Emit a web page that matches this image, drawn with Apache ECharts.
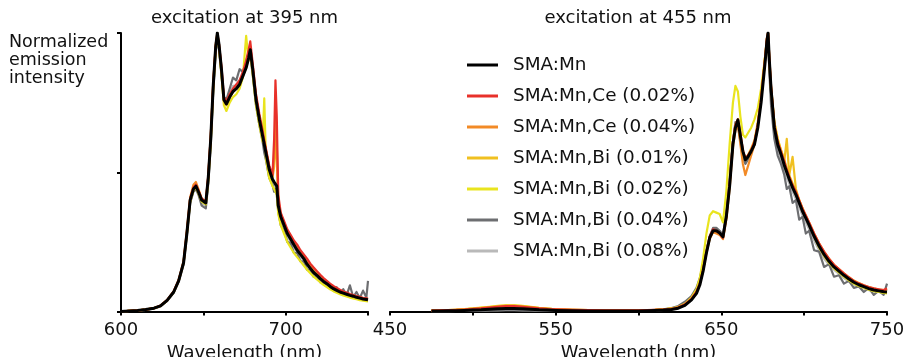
<!DOCTYPE html>
<html>
<head>
<meta charset="utf-8">
<script src="https://cdn.jsdelivr.net/npm/echarts@6/dist/echarts.min.js"></script>
<style>html,body{margin:0;padding:0;background:#fff}#c{width:908px;height:357px}</style>
</head>
<body>
<div id="c"></div>
<script>
// ---------- categories / labels ----------
const seriesNames = ['SMA:Mn','SMA:Mn,Ce (0.02%)','SMA:Mn,Ce (0.04%)','SMA:Mn,Bi (0.01%)','SMA:Mn,Bi (0.02%)','SMA:Mn,Bi (0.04%)','SMA:Mn,Bi (0.08%)'];
const seriesColors = ['#000000','#e8312a','#f28a26','#f0c020','#e9e41e','#6d6e71','#b9b9b9'];
const leftTickLabels = [600, 700];
const rightTickLabels = [450, 550, 650, 750];
const leftTitle = 'excitation at 395 nm';
const rightTitle = 'excitation at 455 nm';
const yAxisTitle = 'Normalized\nemission\nintensity';
const xAxisTitle = 'Wavelength (nm)';

// ---------- left panel (excitation 395 nm) ----------
const leftWl = [
 600,605,610,615,620,624,628,632,635,638,
 640,642,644,645.5,647,649,651.5,653,654.5,656,
 657.5,658.5,659.5,661,662.5,664,666,668,670,672,
 674,676,677.5,678.5,680,682,684,686,687,688,
 690,692,693,693.8,694.6,695.5,697,699,701,703,
 705,707,709,711,713,715,717,719,721,723,
 725,727,729,731,733,735,737,739,741,743,
 745,747,749,750];
const leftMn = [
 0,0.002,0.004,0.007,0.012,0.02,0.04,0.07,0.11,0.175,
 0.28,0.40,0.44,0.45,0.43,0.40,0.39,0.48,0.62,0.81,
 0.95,1.0,0.96,0.87,0.76,0.745,0.77,0.79,0.80,0.815,
 0.845,0.875,0.91,0.94,0.87,0.76,0.69,0.63,0.60,0.57,
 0.51,0.475,0.465,0.47,0.45,0.38,0.34,0.31,0.28,0.26,
 0.24,0.22,0.205,0.19,0.17,0.155,0.14,0.13,0.118,0.108,
 0.10,0.09,0.082,0.076,0.07,0.066,0.062,0.058,0.055,0.051,
 0.048,0.045,0.043,0.042];
const leftCe002 = [
 0,0.002,0.004,0.007,0.012,0.021,0.041,0.072,0.112,0.178,
 0.285,0.405,0.445,0.455,0.435,0.405,0.395,0.49,0.63,0.82,
 0.95,0.995,0.96,0.88,0.77,0.755,0.78,0.80,0.815,0.83,
 0.86,0.90,0.94,0.97,0.89,0.78,0.71,0.65,0.615,0.585,
 0.525,0.49,0.62,0.83,0.70,0.42,0.355,0.325,0.295,0.275,
 0.255,0.24,0.22,0.205,0.19,0.172,0.158,0.145,0.132,0.12,
 0.11,0.10,0.092,0.085,0.078,0.072,0.068,0.063,0.059,0.055,
 0.052,0.049,0.047,0.046];
const leftCe004 = [
 0,0.002,0.004,0.007,0.012,0.021,0.041,0.072,0.112,0.18,
 0.29,0.41,0.455,0.465,0.44,0.405,0.395,0.485,0.63,0.82,
 0.96,1.0,0.96,0.87,0.76,0.745,0.77,0.79,0.80,0.82,
 0.85,0.88,0.91,0.935,0.87,0.77,0.70,0.64,0.61,0.58,
 0.52,0.485,0.55,0.70,0.60,0.40,0.35,0.32,0.29,0.27,
 0.25,0.232,0.215,0.20,0.182,0.166,0.15,0.138,0.126,0.115,
 0.106,0.096,0.088,0.081,0.075,0.07,0.065,0.061,0.058,0.054,
 0.05,0.048,0.045,0.044];
const leftBi001 = [
 0,0.002,0.004,0.007,0.012,0.02,0.04,0.07,0.11,0.176,
 0.28,0.40,0.445,0.455,0.435,0.40,0.39,0.48,0.62,0.81,
 0.95,0.99,0.95,0.86,0.755,0.74,0.77,0.79,0.80,0.815,
 0.845,0.875,0.91,0.95,0.87,0.77,0.70,0.64,0.61,0.58,
 0.515,0.48,0.52,0.62,0.55,0.39,0.345,0.315,0.285,0.265,
 0.245,0.226,0.21,0.195,0.176,0.16,0.145,0.134,0.122,0.112,
 0.103,0.094,0.086,0.079,0.073,0.068,0.064,0.06,0.056,0.053,
 0.05,0.047,0.044,0.043];
const leftBi002 = [
 0,0.002,0.004,0.007,0.012,0.02,0.04,0.07,0.11,0.175,
 0.28,0.395,0.435,0.445,0.425,0.395,0.385,0.47,0.61,0.80,
 0.94,0.99,0.95,0.85,0.74,0.72,0.75,0.77,0.78,0.80,
 0.84,0.99,0.90,0.93,0.85,0.74,0.67,0.61,0.765,0.55,
 0.48,0.45,0.44,0.435,0.42,0.35,0.31,0.28,0.25,0.23,
 0.21,0.195,0.18,0.165,0.15,0.137,0.125,0.115,0.105,0.096,
 0.088,0.08,0.073,0.067,0.062,0.058,0.054,0.05,0.047,0.044,
 0.041,0.039,0.037,0.036];
const leftBi004 = [
 0,0.002,0.004,0.006,0.011,0.019,0.038,0.068,0.108,0.17,
 0.275,0.39,0.43,0.44,0.42,0.38,0.37,0.46,0.60,0.79,
 0.93,0.98,0.94,0.85,0.77,0.76,0.80,0.84,0.83,0.87,
 0.86,0.90,0.93,0.92,0.85,0.74,0.67,0.61,0.57,0.545,
 0.48,0.455,0.43,0.44,0.42,0.36,0.31,0.29,0.25,0.245,
 0.21,0.21,0.18,0.18,0.15,0.15,0.125,0.125,0.105,0.105,
 0.09,0.092,0.075,0.087,0.063,0.08,0.058,0.094,0.052,0.07,
 0.048,0.075,0.05,0.11];
const leftBi008 = [
 0,0.002,0.004,0.006,0.011,0.019,0.038,0.068,0.108,0.172,
 0.276,0.395,0.435,0.445,0.425,0.39,0.38,0.47,0.61,0.80,
 0.94,0.99,0.95,0.86,0.76,0.75,0.78,0.81,0.81,0.83,
 0.85,0.885,0.92,0.935,0.86,0.75,0.68,0.62,0.59,0.56,
 0.50,0.465,0.455,0.46,0.44,0.37,0.33,0.30,0.27,0.25,
 0.23,0.212,0.197,0.182,0.163,0.149,0.134,0.124,0.113,0.104,
 0.096,0.087,0.079,0.073,0.067,0.063,0.059,0.056,0.052,0.049,
 0.046,0.043,0.041,0.04];

// ---------- right panel (excitation 455 nm) ----------
const rightWl = [
 475,480,485,490,495,500,505,510,515,520,525,530,535,540,545,550,
 560,570,580,590,600,
 605,610,615,620,
 624,628,632,635,637,639,641,643,645,647,649,651,653,655,657,
 658.5,660,661.5,663,664.5,666,
 668,670,672,674,
 675.5,676.5,677.5,678.2,679,680,
 682,684,686,688,
 689.5,691,693,695,697,699,701,703,
 706,709,712,715,718,721,724,727,730,733,736,739,742,745,748,
 750];
const rightMn = [
 0.002,0.002,0.003,0.003,0.004,0.005,0.006,0.008,0.010,0.011,0.011,0.010,0.008,0.006,0.005,0.004,
 0.003,0.002,0.002,0.002,0.002,
 0.003,0.004,0.005,0.007,
 0.012,0.022,0.042,0.065,0.095,0.145,0.21,0.265,0.29,0.29,0.282,0.268,0.34,0.45,0.60,
 0.66,0.688,0.63,0.575,0.545,0.555,
 0.575,0.60,0.66,0.75,
 0.84,0.90,0.97,1.0,0.90,0.80,
 0.66,0.60,0.565,0.525,
 0.50,0.475,0.445,0.42,0.39,0.36,0.335,0.31,
 0.27,0.235,0.205,0.18,0.16,0.145,0.13,0.117,0.105,0.096,0.089,0.082,0.077,0.074,0.071,
 0.07];
const rightCe002 = [
 0.003,0.004,0.005,0.006,0.007,0.009,0.011,0.014,0.017,0.019,0.019,0.017,0.014,0.011,0.009,0.008,
 0.006,0.005,0.004,0.004,0.004,
 0.005,0.006,0.007,0.009,
 0.014,0.025,0.045,0.07,0.10,0.15,0.215,0.27,0.295,0.29,0.28,0.265,0.34,0.46,0.61,
 0.67,0.69,0.64,0.58,0.55,0.56,
 0.58,0.61,0.67,0.76,
 0.85,0.91,0.98,1.0,0.91,0.81,
 0.67,0.61,0.575,0.54,
 0.51,0.485,0.455,0.43,0.40,0.37,0.345,0.32,
 0.28,0.245,0.215,0.19,0.168,0.152,0.137,0.123,0.11,0.101,0.094,0.088,0.083,0.08,0.077,
 0.083];
const rightCe004 = [
 0.003,0.004,0.005,0.006,0.008,0.010,0.012,0.015,0.018,0.020,0.020,0.018,0.015,0.012,0.010,0.008,
 0.006,0.005,0.004,0.004,0.004,
 0.005,0.006,0.008,0.010,
 0.015,0.026,0.046,0.07,0.10,0.15,0.21,0.26,0.285,0.28,0.275,0.26,0.33,0.44,0.59,
 0.65,0.67,0.60,0.53,0.49,0.52,
 0.56,0.60,0.67,0.77,
 0.86,0.92,0.98,1.0,0.90,0.80,
 0.67,0.61,0.57,0.535,
 0.505,0.48,0.45,0.425,0.395,0.365,0.34,0.315,
 0.275,0.24,0.21,0.186,0.165,0.15,0.134,0.12,0.108,0.099,0.092,0.086,0.081,0.078,0.075,
 0.08];
const rightBi001 = [
 0.003,0.004,0.005,0.006,0.008,0.010,0.013,0.016,0.019,0.021,0.021,0.019,0.016,0.012,0.010,0.008,
 0.006,0.005,0.004,0.004,0.004,
 0.005,0.006,0.008,0.010,
 0.015,0.026,0.046,0.07,0.10,0.15,0.215,0.265,0.29,0.29,0.28,0.265,0.34,0.46,0.61,
 0.67,0.69,0.63,0.575,0.55,0.56,
 0.585,0.615,0.68,0.77,
 0.86,0.92,0.98,1.0,0.91,0.81,
 0.68,0.62,0.58,0.54,
 0.62,0.49,0.555,0.44,0.40,0.37,0.345,0.32,
 0.28,0.245,0.215,0.19,0.168,0.152,0.137,0.123,0.111,0.102,0.094,0.088,0.083,0.079,0.077,
 0.08];
const rightBi002 = [
 0.003,0.004,0.005,0.007,0.009,0.011,0.014,0.017,0.020,0.022,0.022,0.020,0.017,0.013,0.010,0.008,
 0.006,0.005,0.004,0.004,0.004,
 0.005,0.006,0.008,0.011,
 0.016,0.028,0.05,0.08,0.12,0.19,0.28,0.345,0.36,0.355,0.35,0.32,0.43,0.60,0.75,
 0.81,0.79,0.70,0.635,0.625,0.64,
 0.66,0.69,0.73,0.80,
 0.87,0.92,0.96,0.97,0.89,0.80,
 0.68,0.62,0.58,0.545,
 0.515,0.49,0.46,0.43,0.40,0.37,0.34,0.31,
 0.27,0.23,0.20,0.175,0.155,0.14,0.125,0.112,0.10,0.092,0.085,0.078,0.073,0.07,0.067,
 0.065];
const rightBi004 = [
 0.001,0.001,0.002,0.002,0.003,0.003,0.004,0.005,0.006,0.007,0.007,0.006,0.005,0.004,0.003,0.003,
 0.002,0.002,0.002,0.002,0.003,
 0.004,0.006,0.008,0.012,
 0.02,0.035,0.055,0.085,0.12,0.17,0.22,0.27,0.30,0.30,0.29,0.275,0.35,0.47,0.61,
 0.68,0.67,0.61,0.555,0.53,0.545,
 0.57,0.60,0.67,0.77,
 0.85,0.91,0.97,0.99,0.86,0.74,
 0.62,0.56,0.53,0.49,
 0.44,0.45,0.39,0.40,0.33,0.34,0.28,0.29,
 0.22,0.215,0.16,0.17,0.125,0.13,0.10,0.11,0.085,0.09,0.07,0.085,0.06,0.075,0.06,
 0.10];
const rightBi008 = [
 0.001,0.001,0.001,0.002,0.002,0.003,0.003,0.004,0.004,0.005,0.005,0.004,0.004,0.003,0.003,0.002,
 0.002,0.002,0.002,0.002,0.002,
 0.003,0.004,0.006,0.009,
 0.016,0.03,0.05,0.08,0.11,0.16,0.215,0.265,0.29,0.29,0.282,0.27,0.345,0.46,0.61,
 0.67,0.68,0.62,0.565,0.54,0.55,
 0.57,0.60,0.66,0.76,
 0.85,0.91,0.97,0.99,0.88,0.78,
 0.64,0.58,0.545,0.51,
 0.48,0.46,0.43,0.405,0.375,0.345,0.32,0.295,
 0.255,0.22,0.19,0.168,0.15,0.135,0.12,0.108,0.098,0.09,0.083,0.077,0.073,0.07,0.068,
 0.068];

const leftSets = [leftMn, leftCe002, leftCe004, leftBi001, leftBi002, leftBi004, leftBi008];
const rightSets = [rightMn, rightCe002, rightCe004, rightBi001, rightBi002, rightBi004, rightBi008];

// ---------- chart ----------
const FONT = 'DejaVu Sans';
const TXT = '#111';
const chart = echarts.init(document.getElementById('c'), null, {renderer: 'canvas'});
const drawOrder = [6, 5, 4, 3, 2, 1, 0];
const series = [];
[[leftWl, leftSets, 0], [rightWl, rightSets, 1]].forEach(([wl, sets, gi]) => {
  drawOrder.forEach(k => {
    series.push({
      name: seriesNames[k], type: 'line', xAxisIndex: gi, yAxisIndex: gi,
      data: wl.map((x, i) => [x, sets[k][i]]),
      symbol: 'none', smooth: false, animation: false, z: 2 + (6 - k),
      lineStyle: {color: seriesColors[k], width: k === 0 ? 3 : 2.2, join: 'round'},
      itemStyle: {color: seriesColors[k]}
    });
  });
});

const xAxisCommon = {
  type: 'value', interval: 50,
  axisLine: {show: true, lineStyle: {color: '#000', width: 2}},
  axisTick: {show: true, length: 4, lineStyle: {color: '#000', width: 2}},
  splitLine: {show: false},
  nameLocation: 'middle', nameGap: 30,
  nameTextStyle: {fontFamily: FONT, fontSize: 18, color: TXT},
  name: xAxisTitle
};

chart.setOption({
  backgroundColor: '#fff',
  animation: false,
  title: [
    {text: leftTitle, left: 244.5, top: 9, textAlign: 'center', padding: 0,
     textStyle: {fontFamily: FONT, fontSize: 18, fontWeight: 'normal', color: TXT}},
    {text: rightTitle, left: 638, top: 9, textAlign: 'center', padding: 0,
     textStyle: {fontFamily: FONT, fontSize: 18, fontWeight: 'normal', color: TXT}},
    {text: yAxisTitle, left: 9, top: 33, padding: 0,
     textStyle: {fontFamily: FONT, fontSize: 17.5, fontWeight: 'normal', color: TXT, lineHeight: 18}}
  ],
  legend: {
    data: seriesNames, orient: 'vertical', left: 467, top: 55,
    icon: 'rect', itemWidth: 31, itemHeight: 3, itemGap: 11,
    padding: 0,
    textStyle: {fontFamily: FONT, fontSize: 18.4, color: TXT, lineHeight: 20, padding: [0, 0, 0, 10]}
  },
  grid: [
    {left: 121, width: 247, top: 33, bottom: 45.5, outerBoundsMode: 'none', containLabel: false},
    {left: 390, right: 21, top: 33, bottom: 45.5, outerBoundsMode: 'none', containLabel: false}
  ],
  xAxis: [
    Object.assign({}, xAxisCommon, {gridIndex: 0, min: 600, max: 750,
      axisLabel: {show: true, margin: 10, showMinLabel: true, showMaxLabel: true,
        fontFamily: FONT, fontSize: 18, color: TXT,
        formatter: v => leftTickLabels.includes(v) ? String(v) : ''}}),
    Object.assign({}, xAxisCommon, {gridIndex: 1, min: 450, max: 750,
      axisLabel: {show: true, margin: 10, showMinLabel: true, showMaxLabel: true,
        fontFamily: FONT, fontSize: 18, color: TXT,
        formatter: v => rightTickLabels.includes(v) ? String(v) : ''}})
  ],
  yAxis: [
    {type: 'value', gridIndex: 0, min: 0, max: 1, interval: 0.5,
     axisLine: {show: true, lineStyle: {color: '#000', width: 2}},
     axisTick: {show: true, length: 4, lineStyle: {color: '#000', width: 2}},
     axisLabel: {show: false}, splitLine: {show: false}},
    {type: 'value', gridIndex: 1, min: 0, max: 1, show: false, splitLine: {show: false}}
  ],
  series: series
});
</script>
</body>
</html>
